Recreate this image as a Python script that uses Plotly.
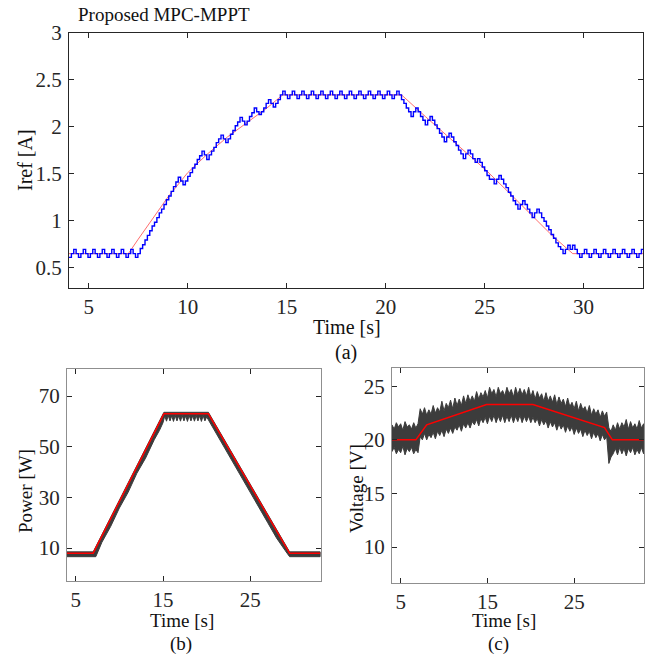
import numpy as np
import plotly.graph_objects as go

# ---------------- data ----------------
# (a) reference current: blue staircase, sampled every 0.12 s from t = 4.0 s
iref_t0 = 4.0
iref_ts = 0.12
iref_blue = [
    0.605, 0.645, 0.69, 0.645, 0.605, 0.645, 0.69, 0.645, 0.605, 0.645, 0.69, 0.645,
    0.605, 0.645, 0.69, 0.645, 0.605, 0.645, 0.69, 0.645, 0.605, 0.645, 0.69, 0.645,
    0.605, 0.645, 0.69, 0.645,
    0.605, 0.645,
    0.70, 0.74, 0.79, 0.84, 0.89, 0.94, 0.98, 1.03, 1.08, 1.12, 1.17, 1.22, 1.26, 1.31, 1.36, 1.41, 1.46,
    1.42, 1.38, 1.42, 1.47, 1.51, 1.56, 1.60, 1.65, 1.69, 1.74,
    1.70, 1.65, 1.70, 1.74, 1.78, 1.83, 1.87, 1.91,
    1.87, 1.83, 1.87, 1.92, 1.96, 2.01, 2.05, 2.10,
    2.06, 2.02, 2.06, 2.11, 2.15, 2.20,
    2.16, 2.13, 2.16, 2.20, 2.25, 2.29,
    2.25, 2.21, 2.25, 2.29, 2.34,
    2.38, 2.34, 2.30, 2.34, 2.38, 2.34, 2.30, 2.34, 2.38, 2.34, 2.30, 2.34,
    2.38, 2.34, 2.30, 2.34, 2.38, 2.34, 2.30, 2.34, 2.38, 2.34, 2.30, 2.34,
    2.38, 2.34, 2.30, 2.34, 2.38, 2.34, 2.30, 2.34, 2.38, 2.34, 2.30, 2.34,
    2.38, 2.34, 2.30, 2.34, 2.38, 2.34, 2.30, 2.34, 2.38, 2.34, 2.30, 2.34,
    2.38,
    2.34, 2.29, 2.25, 2.20, 2.16, 2.11,
    2.16, 2.20, 2.16, 2.11, 2.07, 2.02,
    2.07, 2.11, 2.07, 2.02, 1.98, 1.93, 1.89, 1.84,
    1.89, 1.93, 1.89, 1.84, 1.80, 1.75, 1.71, 1.66,
    1.71, 1.75, 1.71, 1.66, 1.62, 1.66,
    1.62, 1.57, 1.53, 1.48, 1.44, 1.44, 1.39, 1.44, 1.48, 1.44,
    1.39, 1.35, 1.30, 1.26, 1.21, 1.17, 1.12,
    1.17, 1.21, 1.17, 1.12, 1.08, 1.03, 1.08, 1.12,
    1.08, 1.03, 0.99, 0.94, 0.90, 0.85, 0.81, 0.76, 0.72,
    0.69, 0.645, 0.69, 0.735, 0.69, 0.735, 0.69, 0.645, 0.605,
    0.645, 0.69, 0.645, 0.605, 0.645, 0.69, 0.645, 0.605, 0.645, 0.69, 0.645, 0.605,
    0.645, 0.69, 0.645, 0.605, 0.645, 0.69, 0.645, 0.605, 0.645, 0.69, 0.645, 0.605,
    0.645, 0.69, 0.645,
]
# (a) red reference (MPP current)
iref_red_t = [4.0, 7.0, 7.5, 8.0, 8.5, 9.0, 10.0, 11.0, 12.0, 13.0, 14.0, 14.8,
              20.8, 22.0, 23.7, 25.1, 26.5, 28.4, 29.45, 33.0]
iref_red = [0.645, 0.645, 0.80, 0.95, 1.10, 1.25, 1.51, 1.71, 1.89, 2.05, 2.20, 2.34,
            2.34, 2.11, 1.79, 1.53, 1.24, 0.84, 0.645, 0.645]

# (b) power
p_red_t = [4.0, 7.0, 15.1, 20.2, 29.5, 33.0]
p_red = [8.0, 8.0, 63.0, 63.0, 8.0, 8.0]
p_up_t = [4.0, 7.0, 15.1, 20.2, 29.5, 33.0]
p_up = [8.5, 8.5, 63.6, 63.6, 8.5, 8.5]
p_lo_t = [4.0, 7.3, 8.0, 9.0, 10.0, 11.0, 12.0, 13.0, 14.0, 14.6, 15.0,
          15.2, 15.4, 15.6, 15.8, 16.0, 16.2, 16.4, 16.6, 16.8, 17.0, 17.2, 17.4, 17.6,
          17.8, 18.0, 18.2, 18.4, 18.6, 18.8, 19.0, 19.2, 19.4, 19.6, 19.8, 20.0,
          20.4, 21.0, 22.0, 23.0, 24.0, 25.0, 26.0, 27.0, 28.0, 29.0, 29.5, 33.0]
p_lo = [6.6, 6.6, 12.3, 18.5, 25.8, 32.0, 39.5, 45.5, 52.8, 56.5, 59.5,
        62.2, 60.1, 62.3, 60.2, 62.2, 60.0, 62.3, 60.2, 62.2, 60.1, 62.3, 60.2, 62.2,
        60.0, 62.3, 60.2, 62.2, 60.1, 62.3, 60.2, 62.2, 60.0, 62.3, 60.2, 61.8,
        59.3, 55.8, 49.4, 43.4, 37.4, 31.8, 26.0, 20.0, 14.0, 9.0, 6.6, 6.6]

# (c) voltage
v_red_t = [4.0, 6.75, 8.0, 14.9, 20.25, 28.5, 29.4, 33.0]
v_red = [20.0, 20.0, 21.4, 23.3, 23.3, 21.15, 20.0, 20.0]
v_t0 = 4.0
v_ts = 0.25
v_up = [21.4, 21.0, 21.6, 21.2, 21.5, 20.9, 21.7, 21.2, 21.4, 21.0, 21.6, 21.1, 21.5,
        22.9, 22.4, 23.0, 22.3, 22.8, 22.4, 23.2, 22.5, 23.0, 22.6, 23.6, 22.7, 23.4,
        23.0, 23.7, 22.9, 23.9, 23.2, 23.8, 23.2, 24.1, 23.4, 24.2, 23.6, 24.1, 23.6,
        24.5, 23.8, 24.4, 24.0, 24.6, 23.9, 24.9, 24.3, 24.7, 24.0, 24.9, 24.3, 24.6,
        24.1, 24.9, 24.3, 24.7, 24.0, 24.9, 24.2, 24.8, 24.2, 24.7, 24.1, 24.9, 24.0,
        24.6, 23.8, 24.5, 23.9, 24.3, 23.6, 24.4, 23.6, 24.1, 23.5, 24.2, 23.3, 24.0,
        23.4, 23.8, 23.1, 23.9, 23.1, 23.5, 22.9, 23.6, 22.7, 23.4, 22.8, 23.1, 22.5,
        23.2, 22.3, 22.9, 22.4, 22.8, 22.1, 22.7, 22.2, 22.6,
        21.1, 20.8, 21.4, 20.9, 21.6, 21.0, 21.6, 21.2, 21.9, 21.0, 21.7, 21.1, 21.5,
        21.0, 21.8, 21.1, 21.5]
v_lo = [18.9, 19.3, 18.7, 19.1, 18.8, 19.4, 18.6, 19.2, 18.9, 19.3, 18.7, 19.1, 18.8,
        20.3, 20.0, 20.6, 20.0, 20.5, 20.2, 20.7, 20.1, 20.8, 20.4, 20.9, 20.3, 21.0,
        20.6, 21.1, 20.6, 21.2, 20.9, 21.4, 20.8, 21.5, 21.1, 21.6, 21.1, 21.7, 21.4,
        21.9, 21.3, 22.0, 21.6, 22.1, 21.5, 22.2, 21.7, 22.3, 21.6, 22.2, 21.7, 22.3,
        21.6, 22.2, 21.7, 22.3, 21.6, 22.2, 21.7, 22.3, 21.6, 22.2, 21.7, 22.2, 21.6,
        22.1, 21.6, 22.0, 21.3, 21.9, 21.4, 21.8, 21.1, 21.7, 21.2, 21.6, 20.9, 21.5,
        21.0, 21.4, 20.7, 21.3, 20.8, 21.2, 20.5, 21.1, 20.6, 21.0, 20.3, 20.9, 20.4,
        20.8, 20.1, 20.7, 20.2, 20.6, 19.9, 20.5, 20.0, 20.3,
        17.8, 18.4, 18.7, 19.2, 18.6, 19.3, 18.7, 19.2, 18.5, 19.2, 18.8, 19.3, 18.6,
        19.1, 18.7, 19.3, 18.7]

# ---------------- figure ----------------
# the page adds an 8 px body margin, so positions below are given in
# reference pixels and shifted by OFF into figure coordinates
OFF = 8
W, H = 647, 650
FONT = "Liberation Serif, Times New Roman, serif"
DARK = "#262626"
GREY = "#8f8f8f"


def px(x):
    return (x - OFF) / W


def py(y):
    return 1 - (y - OFF) / H


iref_time = [round(iref_t0 + iref_ts * i, 2) for i in range(len(iref_blue))]
v_time = [round(v_t0 + v_ts * i, 2) for i in range(len(v_up))]

fig = go.Figure()

# (a)
fig.add_trace(go.Scatter(x=iref_red_t, y=iref_red, mode="lines",
                         line=dict(color="rgba(255,60,60,0.75)", width=1),
                         xaxis="x", yaxis="y", showlegend=False))
fig.add_trace(go.Scatter(x=iref_time, y=iref_blue, mode="lines", line_shape="hv",
                         line=dict(color="#0000ff", width=1.4),
                         xaxis="x", yaxis="y", showlegend=False))

# (b)
fig.add_trace(go.Scatter(x=p_up_t + p_lo_t[::-1], y=p_up + p_lo[::-1], mode="lines",
                         fill="toself", fillcolor="#3c3c3c",
                         line=dict(color="#3c3c3c", width=1),
                         xaxis="x2", yaxis="y2", showlegend=False))
fig.add_trace(go.Scatter(x=p_red_t, y=p_red, mode="lines",
                         line=dict(color="#ff0000", width=1.5),
                         xaxis="x2", yaxis="y2", showlegend=False))

# (c)
fig.add_trace(go.Scatter(x=v_time + v_time[::-1], y=v_up + v_lo[::-1], mode="lines",
                         fill="toself", fillcolor="#3c3c3c",
                         line=dict(color="#3c3c3c", width=1),
                         xaxis="x3", yaxis="y3", showlegend=False))
fig.add_trace(go.Scatter(x=v_red_t, y=v_red, mode="lines",
                         line=dict(color="#ff0000", width=1.5),
                         xaxis="x3", yaxis="y3", showlegend=False))


def ax(domain, rng, tickvals, anchor, color, tickcolor, size):
    return dict(domain=domain, range=rng, tickvals=tickvals, anchor=anchor,
                showline=True, linecolor=color, linewidth=1, mirror="ticks",
                ticks="inside", ticklen=5, tickcolor=tickcolor, tickwidth=1,
                showgrid=False, zeroline=False, automargin=False,
                tickfont=dict(family=FONT, size=size, color=DARK))


fig.update_layout(
    width=W, height=H, autosize=False,
    margin=dict(l=0, r=0, t=0, b=0, pad=0),
    paper_bgcolor="white", plot_bgcolor="white",
    font=dict(family=FONT, color=DARK),
    xaxis=ax([px(69), px(643)], [4, 33], [5, 10, 15, 20, 25, 30], "y", DARK, DARK, 21),
    yaxis=ax([py(288), py(33)], [0.278, 3.001], [0.5, 1, 1.5, 2, 2.5, 3], "x", DARK, DARK, 21),
    xaxis2=ax([px(67), px(321)], [4, 33.1], [5, 15, 25], "y2", GREY, DARK, 21),
    yaxis2=ax([py(581), py(369)], [-3, 80.7], [10, 30, 50, 70], "x2", GREY, DARK, 21),
    xaxis3=ax([px(392), px(644)], [4, 33.05], [5, 15, 25], "y3", GREY, DARK, 21),
    yaxis3=ax([py(583), py(368)], [6.65, 26.7], [10, 15, 20, 25], "x3", GREY, DARK, 21),
)
fig.update_yaxes(ticklabelstandoff=2)


def text(s, x, y, size=20, angle=0, xanchor="center"):
    fig.add_annotation(text=s, x=px(x), y=py(y), xref="paper", yref="paper",
                       showarrow=False, textangle=angle, xanchor=xanchor, yanchor="middle",
                       font=dict(family=FONT, size=size, color="#111111"))


text("Proposed MPC-MPPT", 76, 15, size=19, xanchor="left")
text("Time [s]", 347, 327, size=20)
text("(a)", 346, 352, size=20)
text("Iref [A]", 25, 160, size=20, angle=-90)
text("Time [s]", 182, 620, size=19)
text("(b)", 181, 644, size=19)
text("Power [W]", 25, 491, size=19, angle=-90)
text("Time [s]", 504, 620, size=19)
text("(c)", 498, 644, size=19)
text("Voltage [V]", 356, 489, size=19, angle=-90)

fig.write_html("out.html")
